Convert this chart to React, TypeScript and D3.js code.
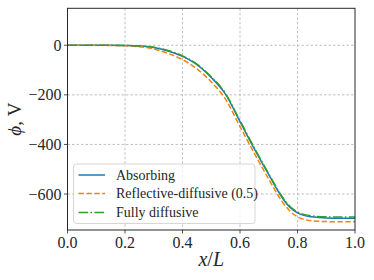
import * as d3 from "d3";

// x/L sample positions
const xs = [
  0, 0.05, 0.1, 0.15, 0.2, 0.25, 0.3, 0.35, 0.4, 0.45, 0.5, 0.55, 0.6, 0.65,
  0.7, 0.75, 0.775, 0.8, 0.825, 0.85, 0.9, 0.95, 1.0,
];

// potential (V) for each boundary model
const absorbing = [
  0, 0, 0, 0, -1, -3, -9, -23, -45, -78, -130, -198, -308, -418, -522, -620,
  -655, -676, -687, -692, -697, -698, -698,
];
const reflective = [
  0, 0, 0, -1, -2, -6, -15, -33, -58, -95, -148, -218, -328, -436, -540, -636,
  -670, -692, -703, -708, -711, -712, -712,
];
const fullyDiffusive = [
  0, 0, 0, 0, -1, -3, -8, -21, -43, -76, -127, -195, -304, -414, -518, -616,
  -651, -672, -683, -688, -692, -693, -693,
];

const xTicks = [0, 0.2, 0.4, 0.6, 0.8, 1.0];
const yTicks = [0, -200, -400, -600];

const series = [
  { name: "Absorbing", values: absorbing, color: "#1f77b4", dash: "" },
  { name: "Reflective-diffusive (0.5)", values: reflective, color: "#ff7f0e", dash: "5.5,2.4" },
  { name: "Fully diffusive", values: fullyDiffusive, color: "#2ca02c", dash: "9.6,2.4,1.5,2.4" },
];

const W = 374;
const H = 280;
const left = 67.5;
const right = 355;
const top = 8.3;
const bottom = 230;
const font = "Liberation Serif, serif";

export default function App() {
  const x = d3.scaleLinear().domain([0, 1]).range([left, right]);
  const y = d3.scaleLinear().domain([-745, 149]).range([bottom, top]);

  const line = (vals: number[]) =>
    d3
      .line<number>()
      .x((_, i) => x(xs[i]))
      .y((d) => y(d))
      .curve(d3.curveMonotoneX)(vals) || "";

  const fmtY = (v: number) => (v < 0 ? "\u2212" + Math.abs(v) : String(v));

  // legend placement
  const lgX = 73.5;
  const lgY = 164;
  const lgW = 181.5;
  const lgH = 59.5;
  const rowY = [175, 193.5, 212.5];

  return (
    <svg
      width={W}
      height={H}
      style={{ position: "absolute", left: 0, top: 0, background: "#fff" }}
    >
      {/* grid */}
      <g stroke="#b0b0b0" strokeWidth={0.8} strokeDasharray="2.5,2">
        {xTicks.slice(1, -1).map((t) => (
          <line key={"gx" + t} x1={x(t)} x2={x(t)} y1={top} y2={bottom} />
        ))}
        {yTicks.map((t) => (
          <line key={"gy" + t} x1={left} x2={right} y1={y(t)} y2={y(t)} />
        ))}
      </g>

      {/* curves */}
      <g fill="none" strokeWidth={1.5}>
        {series.map((s) => (
          <path
            key={s.name}
            d={line(s.values)}
            stroke={s.color}
            strokeDasharray={s.dash || undefined}
          />
        ))}
      </g>

      {/* frame */}
      <rect
        x={left}
        y={top}
        width={right - left}
        height={bottom - top}
        fill="none"
        stroke="#262626"
        strokeWidth={1}
      />

      <g style={{ fontFamily: font }} fill="#262626">
        {/* x ticks */}
        {xTicks.map((t) => (
          <g key={"xt" + t}>
            <line x1={x(t)} x2={x(t)} y1={bottom} y2={bottom + 3.5} stroke="#262626" strokeWidth={0.8} />
            <text x={x(t)} y={bottom + 18} textAnchor="middle" fontSize={16}>
              {t.toFixed(1)}
            </text>
          </g>
        ))}

        {/* y ticks */}
        {yTicks.map((t) => (
          <g key={"yt" + t}>
            <line x1={left - 3.5} x2={left} y1={y(t)} y2={y(t)} stroke="#262626" strokeWidth={0.8} />
            <text x={left - 6} y={y(t)} dy="0.35em" textAnchor="end" fontSize={16}>
              {fmtY(t)}
            </text>
          </g>
        ))}

        {/* axis titles */}
        <text x={(left + right) / 2} y={266} textAnchor="middle" fontSize={20}>
          <tspan fontStyle="italic">x</tspan>/<tspan fontStyle="italic">L</tspan>
        </text>
        <text
          transform={`translate(21,${(top + bottom) / 2}) rotate(-90)`}
          textAnchor="middle"
          fontSize={19}
        >
          <tspan fontStyle="italic">ϕ</tspan>, V
        </text>

        {/* legend */}
        <rect
          x={lgX}
          y={lgY}
          width={lgW}
          height={lgH}
          rx={3}
          fill="#fff"
          fillOpacity={0.8}
          stroke="#cccccc"
          strokeWidth={0.8}
        />
        {series.map((s, i) => (
          <g key={"lg" + s.name}>
            <line
              x1={78.5}
              x2={105}
              y1={rowY[i]}
              y2={rowY[i]}
              stroke={s.color}
              strokeWidth={1.5}
              strokeDasharray={s.dash || undefined}
            />
            <text x={116} y={rowY[i]} dy="0.35em" fontSize={14}>
              {s.name}
            </text>
          </g>
        ))}
      </g>
    </svg>
  );
}
